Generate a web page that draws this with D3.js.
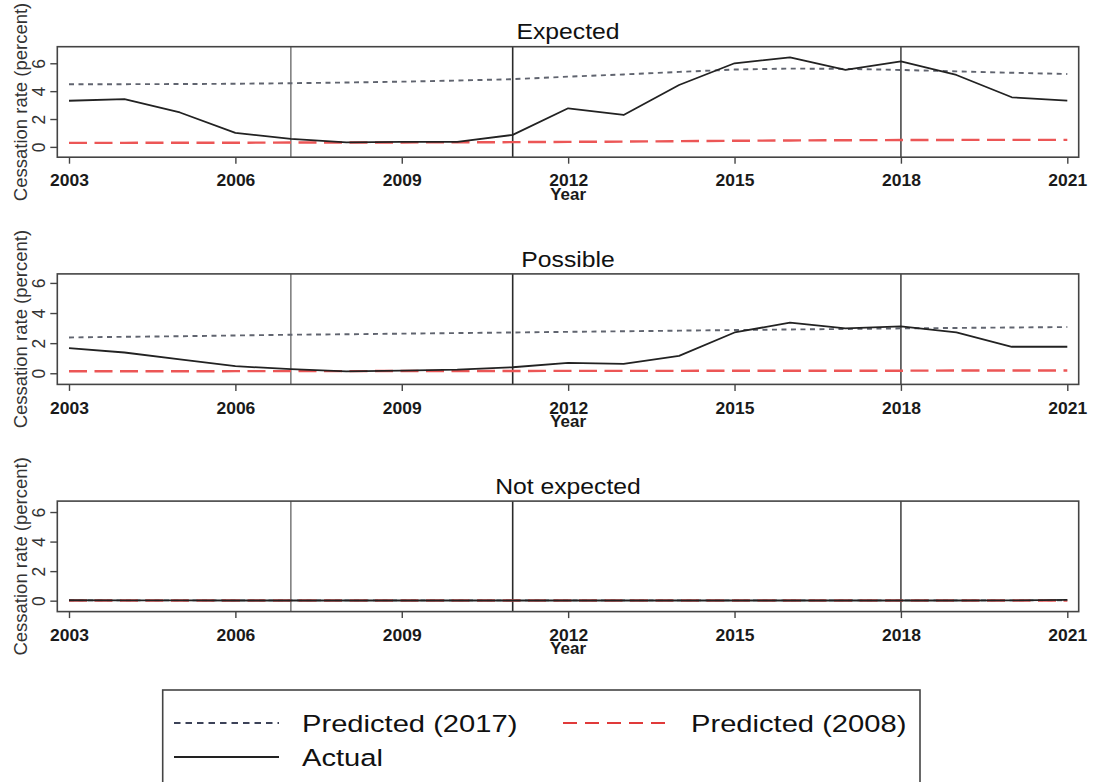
<!DOCTYPE html>
<html>
<head>
<meta charset="utf-8">
<script src="https://cdn.jsdelivr.net/npm/d3@7"></script>
<style>
  body { margin: 0; background: #fff; }
  svg { display: block; font-family: "Liberation Sans", Arial, sans-serif; }
</style>
</head>
<body>
<div id="chart"></div>
<script>
// ---- data ----
const years = [2003, 2004, 2005, 2006, 2007, 2008, 2009, 2010, 2011, 2012,
               2013, 2014, 2015, 2016, 2017, 2018, 2019, 2020, 2021];
const panelTitles = ["Expected", "Possible", "Not expected"];

const expectedActual   = [3.31, 3.43, 2.47, 1.00, 0.57, 0.33, 0.36, 0.36, 0.86, 2.77,
                          2.29, 4.44, 6.00, 6.43, 5.52, 6.14, 5.16, 3.56, 3.32];
const expectedPred2017 = [4.50, 4.50, 4.51, 4.53, 4.57, 4.62, 4.68, 4.76, 4.86, 5.04,
                          5.20, 5.38, 5.55, 5.62, 5.60, 5.52, 5.42, 5.32, 5.23];
const expectedPred2008 = [0.29, 0.29, 0.30, 0.30, 0.31, 0.31, 0.32, 0.33, 0.34, 0.36,
                          0.38, 0.41, 0.44, 0.46, 0.48, 0.49, 0.50, 0.50, 0.50];

const possibleActual   = [1.67, 1.38, 0.92, 0.47, 0.27, 0.13, 0.18, 0.24, 0.40, 0.69,
                          0.62, 1.16, 2.71, 3.36, 2.98, 3.11, 2.71, 1.76, 1.76];
const possiblePred2017 = [2.38, 2.42, 2.46, 2.51, 2.56, 2.59, 2.63, 2.67, 2.71, 2.75,
                          2.79, 2.83, 2.87, 2.91, 2.94, 2.98, 3.01, 3.04, 3.07];
const possiblePred2008 = [0.13, 0.13, 0.13, 0.14, 0.14, 0.14, 0.15, 0.15, 0.15, 0.16,
                          0.16, 0.16, 0.17, 0.17, 0.17, 0.17, 0.18, 0.18, 0.18];

const notExpActual     = [0.03, 0.02, 0.02, 0.01, 0.01, 0.01, 0.01, 0.01, 0.01, 0.01,
                          0.01, 0.01, 0.01, 0.01, 0.01, 0.01, 0.01, 0.02, 0.05];
const notExpPred2017   = [0.02, 0.02, 0.02, 0.02, 0.02, 0.02, 0.02, 0.02, 0.02, 0.02,
                          0.02, 0.02, 0.02, 0.02, 0.02, 0.02, 0.02, 0.02, 0.02];
const notExpPred2008   = [0.01, 0.01, 0.01, 0.01, 0.01, 0.01, 0.01, 0.01, 0.01, 0.01,
                          0.01, 0.01, 0.01, 0.01, 0.01, 0.01, 0.01, 0.01, 0.01];

const policyYears = [2007, 2011, 2018];           // vertical reference lines
const xTickYears  = [2003, 2006, 2009, 2012, 2015, 2018, 2021];
const yTicks      = [0, 2, 4, 6];
const yMin        = -0.74;
const panelYMax   = [7.19, 6.6, 6.74];            // each panel has its own range
const legendLabels = ["Predicted (2017)", "Predicted (2008)", "Actual"];

// ---- chart ----
var W = 1093, H = 782;
var sx = 1.15; // the picture is a bit stretched horizontally, text too

var svg = d3.select("#chart").append("svg").attr("width", W).attr("height", H);
svg.append("rect").attr("width", W).attr("height", H).attr("fill", "#fff");

var x = d3.scaleLinear().domain([2003, 2021]).range([69, 1067.3]);
var frameLeft = 57.3, frameRight = 1078.7, frameH = 110.5;

var vlineColors = ["#808080", "#2a2a2a", "#4a4a4a"];
var styles = {
  pred2017: { color: "#60646f", width: 1.9, dash: "5,4.5" },
  pred2008: { color: "#ec5656", width: 2.4, dash: "18,7.5" },
  actual:   { color: "#222", width: 1.8, dash: null }
};

var panels = [
  { title: panelTitles[0], pred2017: expectedPred2017, pred2008: expectedPred2008, actual: expectedActual },
  { title: panelTitles[1], pred2017: possiblePred2017, pred2008: possiblePred2008, actual: possibleActual },
  { title: panelTitles[2], pred2017: notExpPred2017,   pred2008: notExpPred2008,   actual: notExpActual }
];

panels.forEach(function(p, i) {
  var top = 46.7 + i * 227.2;
  var bottom = top + frameH;
  var y = d3.scaleLinear().domain([yMin, panelYMax[i]]).range([bottom, top]);
  var g = svg.append("g").attr("class", "panel");

  // reference years drawn under the series
  g.selectAll(".vline")
    .data(policyYears)
    .enter()
    .append("line")
    .attr("class", "vline")
    .attr("x1", d => x(d)).attr("x2", d => x(d))
    .attr("y1", top).attr("y2", bottom)
    .attr("stroke", (d, j) => vlineColors[j])
    .attr("stroke-width", 1.6);

  var line = d3.line()
    .x((d, k) => x(years[k]))
    .y(d => y(d));

  ["pred2017", "pred2008", "actual"].forEach(function(key) {
    var s = styles[key];
    g.append("path")
      .datum(p[key])
      .attr("d", line)
      .attr("fill", "none")
      .attr("stroke", s.color)
      .attr("stroke-width", s.width)
      .attr("stroke-dasharray", s.dash)
      .attr("stroke-linejoin", "round");
  });

  // plot frame
  g.append("rect")
    .attr("x", frameLeft).attr("y", top)
    .attr("width", frameRight - frameLeft).attr("height", frameH)
    .attr("fill", "none")
    .attr("stroke", "#444")
    .attr("stroke-width", 1.6);

  // x axis
  var xAxis = g.append("g")
    .attr("transform", "translate(0," + bottom + ")")
    .call(d3.axisBottom(x).tickValues(xTickYears).tickFormat(d3.format("d")).tickSize(6.5));
  xAxis.select(".domain").remove();
  xAxis.selectAll(".tick line").attr("stroke", "#444").attr("stroke-width", 1.4);
  xAxis.selectAll(".tick text")
    .attr("y", 29.3).attr("dy", null)
    .attr("transform", "scale(1.06,1)")
    .attr("fill", "#1a1a1a")
    .style("font-size", "16.5px")
    .style("font-weight", "bold")
    .style("font-family", "'Liberation Sans', Arial, sans-serif");

  g.append("text")
    .attr("transform", "translate(" + x(2012) + "," + (bottom + 42.5) + ") scale(1.06,1)")
    .attr("text-anchor", "middle")
    .attr("fill", "#1a1a1a")
    .style("font-size", "16px")
    .style("font-weight", "bold")
    .text("Year");

  // y axis with rotated labels
  var yAxis = g.append("g")
    .attr("transform", "translate(" + frameLeft + ",0)")
    .call(d3.axisLeft(y).tickValues(yTicks).tickSize(7));
  yAxis.select(".domain").remove();
  yAxis.selectAll(".tick line").attr("stroke", "#444").attr("stroke-width", 1.4);
  yAxis.selectAll(".tick text")
    .attr("x", 0).attr("y", 0).attr("dy", "0.36em")
    .attr("text-anchor", "middle")
    .attr("transform", "translate(-18.5,0) rotate(-90)")
    .attr("fill", "#333")
    .style("font-size", "17.5px")
    .style("font-family", "'Liberation Sans', Arial, sans-serif");

  g.append("text")
    .attr("transform", "translate(20," + ((top + bottom) / 2) + ") rotate(-90)")
    .attr("text-anchor", "middle")
    .attr("dy", "0.36em")
    .attr("fill", "#333")
    .style("font-size", "18.5px")
    .text("Cessation rate (percent)");

  // panel title
  g.append("text")
    .attr("transform", "translate(" + ((frameLeft + frameRight) / 2) + "," + (top - 15) + ") scale(" + sx + ",1)")
    .attr("text-anchor", "middle")
    .attr("dy", "0.36em")
    .attr("fill", "#111")
    .style("font-size", "21.5px")
    .text(p.title);
});

// ---- legend ----
var legend = svg.append("g").attr("class", "legend");
legend.append("rect")
  .attr("x", 162.7).attr("y", 690)
  .attr("width", 757.3).attr("height", 110)
  .attr("fill", "#fff")
  .attr("stroke", "#444")
  .attr("stroke-width", 1.6);

var legendKeys = ["pred2017", "pred2008", "actual"];
var legendPos = [[174, 723], [563, 723], [174, 757]];
var legendDash = { pred2017: "6.5,5", pred2008: "14,8", actual: null };
var legendColor = { pred2017: "#3c4258", pred2008: "#e03a3a", actual: "#222" };

legendKeys.forEach(function(key, k) {
  var pos = legendPos[k];
  legend.append("line")
    .attr("x1", pos[0]).attr("x2", pos[0] + 105)
    .attr("y1", pos[1]).attr("y2", pos[1])
    .attr("stroke", legendColor[key])
    .attr("stroke-width", key === "actual" ? 2.2 : 2)
    .attr("stroke-dasharray", legendDash[key]);
  legend.append("text")
    .attr("transform", "translate(" + (pos[0] + 128) + "," + pos[1] + ") scale(1.19,1)")
    .attr("dy", "0.36em")
    .attr("fill", "#111")
    .style("font-size", "24.5px")
    .text(legendLabels[k]);
});
</script>
</body>
</html>
